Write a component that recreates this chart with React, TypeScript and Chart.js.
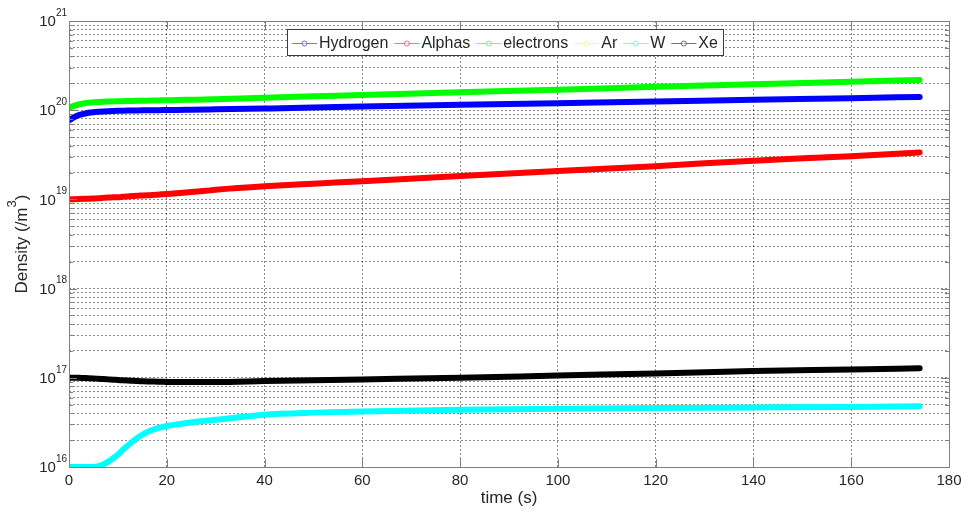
import React, { useEffect, useRef } from 'react';
import { Chart, registerables } from 'chart.js';

Chart.register(...registerables);

// ---- data ----
const times = [0, 1, 2, 3, 4, 5, 6, 7, 8, 9, 10, 11, 12, 13, 14, 15, 16, 17, 18, 19, 20, 22, 25, 28, 30, 40, 50, 60, 80, 100, 120, 140, 160, 174];
const hydrogen = [7.7e19, 8.3e19, 8.8e19, 9.1e19, 9.35e19, 9.5e19, 9.6e19, 9.68e19, 9.75e19, 9.8e19, 9.84e19, 9.87e19, 9.9e19, 9.92e19, 9.94e19, 9.96e19, 9.98e19, 1.0e20, 1.0e20, 1.002e20, 1.003e20, 1.006e20, 1.012e20, 1.018e20, 1.022e20, 1.045e20, 1.07e20, 1.1e20, 1.15e20, 1.2e20, 1.25e20, 1.31e20, 1.36e20, 1.41e20];
const alphas = [1.0e19, 1.005e19, 1.01e19, 1.015e19, 1.02e19, 1.025e19, 1.03e19, 1.04e19, 1.05e19, 1.055e19, 1.06e19, 1.07e19, 1.08e19, 1.09e19, 1.1e19, 1.105e19, 1.11e19, 1.12e19, 1.13e19, 1.14e19, 1.15e19, 1.17e19, 1.21e19, 1.25e19, 1.28e19, 1.4e19, 1.5e19, 1.6e19, 1.83e19, 2.08e19, 2.36e19, 2.72e19, 3.05e19, 3.36e19];
const electrons = [1.06e20, 1.12e20, 1.16e20, 1.19e20, 1.21e20, 1.225e20, 1.235e20, 1.245e20, 1.25e20, 1.255e20, 1.26e20, 1.263e20, 1.266e20, 1.27e20, 1.273e20, 1.276e20, 1.28e20, 1.283e20, 1.286e20, 1.29e20, 1.293e20, 1.3e20, 1.31e20, 1.32e20, 1.33e20, 1.38e20, 1.43e20, 1.48e20, 1.59e20, 1.7e20, 1.83e20, 1.96e20, 2.08e20, 2.18e20];
// Ar lies below the plotted range (not visible in the figure)
const argon = [5e15, 5e15, 5e15, 5e15, 5e15, 5e15, 5e15, 5e15, 5e15, 5e15, 5e15, 5e15, 5e15, 5e15, 5e15, 5e15, 5e15, 5e15, 5e15, 5e15, 5e15, 5e15, 5e15, 5e15, 5e15, 5e15, 5e15, 5e15, 5e15, 5e15, 5e15, 5e15, 5e15, 5e15];
const tungsten = [1e16, 1e16, 1e16, 1e16, 1e16, 1.0e16, 1.02e16, 1.07e16, 1.14e16, 1.25e16, 1.37e16, 1.55e16, 1.73e16, 1.92e16, 2.12e16, 2.3e16, 2.46e16, 2.6e16, 2.71e16, 2.8e16, 2.88e16, 3.0e16, 3.16e16, 3.3e16, 3.38e16, 3.86e16, 4.07e16, 4.2e16, 4.38e16, 4.5e16, 4.58e16, 4.65e16, 4.72e16, 4.8e16];
const xenon = [1.0e17, 1.0e17, 1.0e17, 0.995e17, 0.99e17, 0.983e17, 0.975e17, 0.968e17, 0.96e17, 0.952e17, 0.945e17, 0.937e17, 0.93e17, 0.925e17, 0.92e17, 0.915e17, 0.91e17, 0.907e17, 0.905e17, 0.902e17, 0.9e17, 0.9e17, 0.9e17, 0.9e17, 0.9e17, 0.92e17, 0.94e17, 0.96e17, 1.0e17, 1.06e17, 1.12e17, 1.19e17, 1.24e17, 1.28e17];

const seriesLabels = ['Hydrogen', 'Alphas', 'electrons', 'Ar', 'W', 'Xe'];
const seriesValues = [hydrogen, alphas, electrons, argon, tungsten, xenon];
const seriesColors = ['#0000ff', '#ff0000', '#00ff00', '#ffff00', '#00ffff', '#000000'];

const xTicks = [0, 20, 40, 60, 80, 100, 120, 140, 160, 180];
const yExponents = [16, 17, 18, 19, 20, 21];
const yMinorMultipliers = [2, 3, 4, 5, 6, 7, 8, 9];

const xTitle = 'time (s)';
const yTitleMain = 'Density (/m';
const yTitleSup = '3';
const yTitleEnd = ')';

const FONT = '"Liberation Sans", Arial, Helvetica, sans-serif';
const FRAME = '#808080';
const TEXT = '#262626';

const decorPlugin = {
  id: 'matlabDecor',
  afterDraw(chart: any) {
    const ctx = chart.ctx;
    const ca = chart.chartArea;
    const xs = chart.scales.x;
    const ys = chart.scales.y;
    ctx.save();

    // tick marks (inward)
    ctx.strokeStyle = FRAME;
    ctx.lineWidth = 1;
    ctx.beginPath();
    yExponents.forEach((e) => {
      const y = Math.round(ys.getPixelForValue(Math.pow(10, e))) + 0.5;
      ctx.moveTo(ca.left, y); ctx.lineTo(ca.left + 8, y);
      ctx.moveTo(ca.right, y); ctx.lineTo(ca.right - 8, y);
      if (e < yExponents[yExponents.length - 1]) {
        yMinorMultipliers.forEach((m) => {
          const ym = Math.round(ys.getPixelForValue(m * Math.pow(10, e))) + 0.5;
          ctx.moveTo(ca.left, ym); ctx.lineTo(ca.left + 4, ym);
          ctx.moveTo(ca.right, ym); ctx.lineTo(ca.right - 4, ym);
        });
      }
    });
    xTicks.forEach((v) => {
      const x = Math.round(xs.getPixelForValue(v)) + 0.5;
      ctx.moveTo(x, ca.bottom); ctx.lineTo(x, ca.bottom - 8);
      ctx.moveTo(x, ca.top); ctx.lineTo(x, ca.top + 8);
    });
    ctx.stroke();

    // frame
    ctx.strokeStyle = FRAME;
    ctx.strokeRect(Math.round(ca.left) + 0.5, Math.round(ca.top) + 0.5, Math.round(ca.right - ca.left), Math.round(ca.bottom - ca.top));

    // y tick labels 10^n
    ctx.fillStyle = TEXT;
    ctx.textBaseline = 'middle';
    ctx.textAlign = 'right';
    yExponents.forEach((e) => {
      const y = ys.getPixelForValue(Math.pow(10, e));
      const right = ca.left - 2;
      ctx.font = `10px ${FONT}`;
      const sup = String(e);
      const supW = ctx.measureText(sup).width;
      ctx.fillText(sup, right, y - 8);
      ctx.font = `15px ${FONT}`;
      ctx.fillText('10', right - supW, y + 1);
    });

    // y title
    ctx.save();
    ctx.translate(22, (ca.top + ca.bottom) / 2);
    ctx.rotate(-Math.PI / 2);
    ctx.textAlign = 'left';
    ctx.font = `17px ${FONT}`;
    const w1 = ctx.measureText(yTitleMain).width;
    const w3 = ctx.measureText(yTitleEnd).width;
    ctx.font = `13px ${FONT}`;
    const w2 = ctx.measureText(yTitleSup).width;
    let sx = -(w1 + w2 + w3) / 2;
    ctx.font = `17px ${FONT}`;
    ctx.fillText(yTitleMain, sx, 0);
    sx += w1;
    ctx.font = `13px ${FONT}`;
    ctx.fillText(yTitleSup, sx, -10);
    sx += w2;
    ctx.font = `17px ${FONT}`;
    ctx.fillText(yTitleEnd, sx, 0);
    ctx.restore();

    // x title
    ctx.textAlign = 'center';
    ctx.textBaseline = 'middle';
    ctx.font = `17px ${FONT}`;
    ctx.fillText(xTitle, (ca.left + ca.right) / 2, 498);

    // legend
    const ds = chart.data.datasets;
    ctx.font = `16px ${FONT}`;
    const lineLen = 25, textGap = 2, itemGap = 6, pad = 5, boxH = 26;
    const widths = ds.map((d: any) => ctx.measureText(d.label).width);
    const total = widths.reduce((a: number, b: number) => a + b, 0) + ds.length * (lineLen + textGap) + (ds.length - 1) * itemGap + pad * 2;
    const bx = Math.round((ca.left + ca.right) / 2 - total / 2 - 4);
    const by = Math.round(ca.top + 8);
    ctx.fillStyle = '#ffffff';
    ctx.fillRect(bx, by, total, boxH);
    ctx.strokeStyle = '#3a3a3a';
    ctx.lineWidth = 1;
    ctx.strokeRect(bx + 0.5, by + 0.5, Math.round(total), boxH);
    let cx = bx + pad;
    const cy = by + boxH / 2 + 0.5;
    ds.forEach((d: any, i: number) => {
      ctx.save();
      ctx.globalAlpha = 0.55;
      ctx.strokeStyle = d.borderColor;
      ctx.lineWidth = 1;
      ctx.beginPath();
      ctx.moveTo(cx, Math.round(cy) + 0.5);
      ctx.lineTo(cx + lineLen, Math.round(cy) + 0.5);
      ctx.stroke();
      ctx.beginPath();
      ctx.arc(cx + lineLen / 2, Math.round(cy) + 0.5, 2.5, 0, Math.PI * 2);
      ctx.fillStyle = '#ffffff';
      ctx.fill();
      ctx.stroke();
      ctx.restore();
      ctx.fillStyle = TEXT;
      ctx.textAlign = 'left';
      ctx.textBaseline = 'middle';
      ctx.fillText(d.label, cx + lineLen + textGap, cy + 1);
      cx += lineLen + textGap + widths[i] + itemGap;
    });

    ctx.restore();
  },
};

export default function App() {
  const ref = useRef<HTMLCanvasElement | null>(null);

  useEffect(() => {
    document.body.style.margin = '0';
    const canvas = ref.current;
    if (!canvas) return;
    const gridColor = 'rgba(40,40,40,0.55)';
    const chart = new Chart(canvas, {
      type: 'line',
      data: {
        datasets: seriesLabels.map((label, i) => ({
          label,
          data: times.map((t, j) => ({ x: t, y: seriesValues[i][j] })),
          borderColor: seriesColors[i],
          backgroundColor: seriesColors[i],
          borderWidth: 6,
          pointRadius: 0,
          pointHoverRadius: 0,
          cubicInterpolationMode: 'monotone',
          borderCapStyle: 'round',
          borderJoinStyle: 'round',
          fill: false,
        })),
      },
      options: {
        responsive: false,
        animation: false,
        devicePixelRatio: 1,
        events: [],
        layout: { padding: { top: 21, right: 19, left: 0, bottom: 0 } },
        plugins: {
          legend: { display: false },
          tooltip: { enabled: false },
        },
        scales: {
          x: {
            type: 'linear',
            min: 0,
            max: 180,
            afterBuildTicks: (s: any) => {
              s.ticks = xTicks.map((v) => ({ value: v }));
            },
            ticks: {
              font: { family: FONT, size: 15 },
              color: TEXT,
              padding: 5,
              maxRotation: 0,
              autoSkip: false,
            },
            grid: { color: gridColor, lineWidth: 1, drawTicks: false },
            border: { display: false, dash: [2, 2] },
            afterFit: (s: any) => {
              s.height = 46;
            },
          },
          y: {
            type: 'logarithmic',
            min: 1e16,
            max: 1e21,
            afterBuildTicks: (s: any) => {
              const t: any[] = [];
              yExponents.forEach((e, k) => {
                t.push({ value: Math.pow(10, e), major: true });
                if (k < yExponents.length - 1) {
                  yMinorMultipliers.forEach((m) => t.push({ value: m * Math.pow(10, e), major: false }));
                }
              });
              s.ticks = t;
            },
            ticks: { display: false },
            grid: { color: gridColor, lineWidth: 1, drawTicks: false },
            border: { display: false, dash: [2, 2] },
            afterFit: (s: any) => {
              s.width = 69;
            },
          },
        },
      } as any,
      plugins: [decorPlugin],
    });
    return () => chart.destroy();
  }, []);

  return (
    <div style={{ width: 968, height: 513, background: '#ffffff' }}>
      <canvas ref={ref} width={968} height={513} style={{ display: 'block' }} />
    </div>
  );
}
